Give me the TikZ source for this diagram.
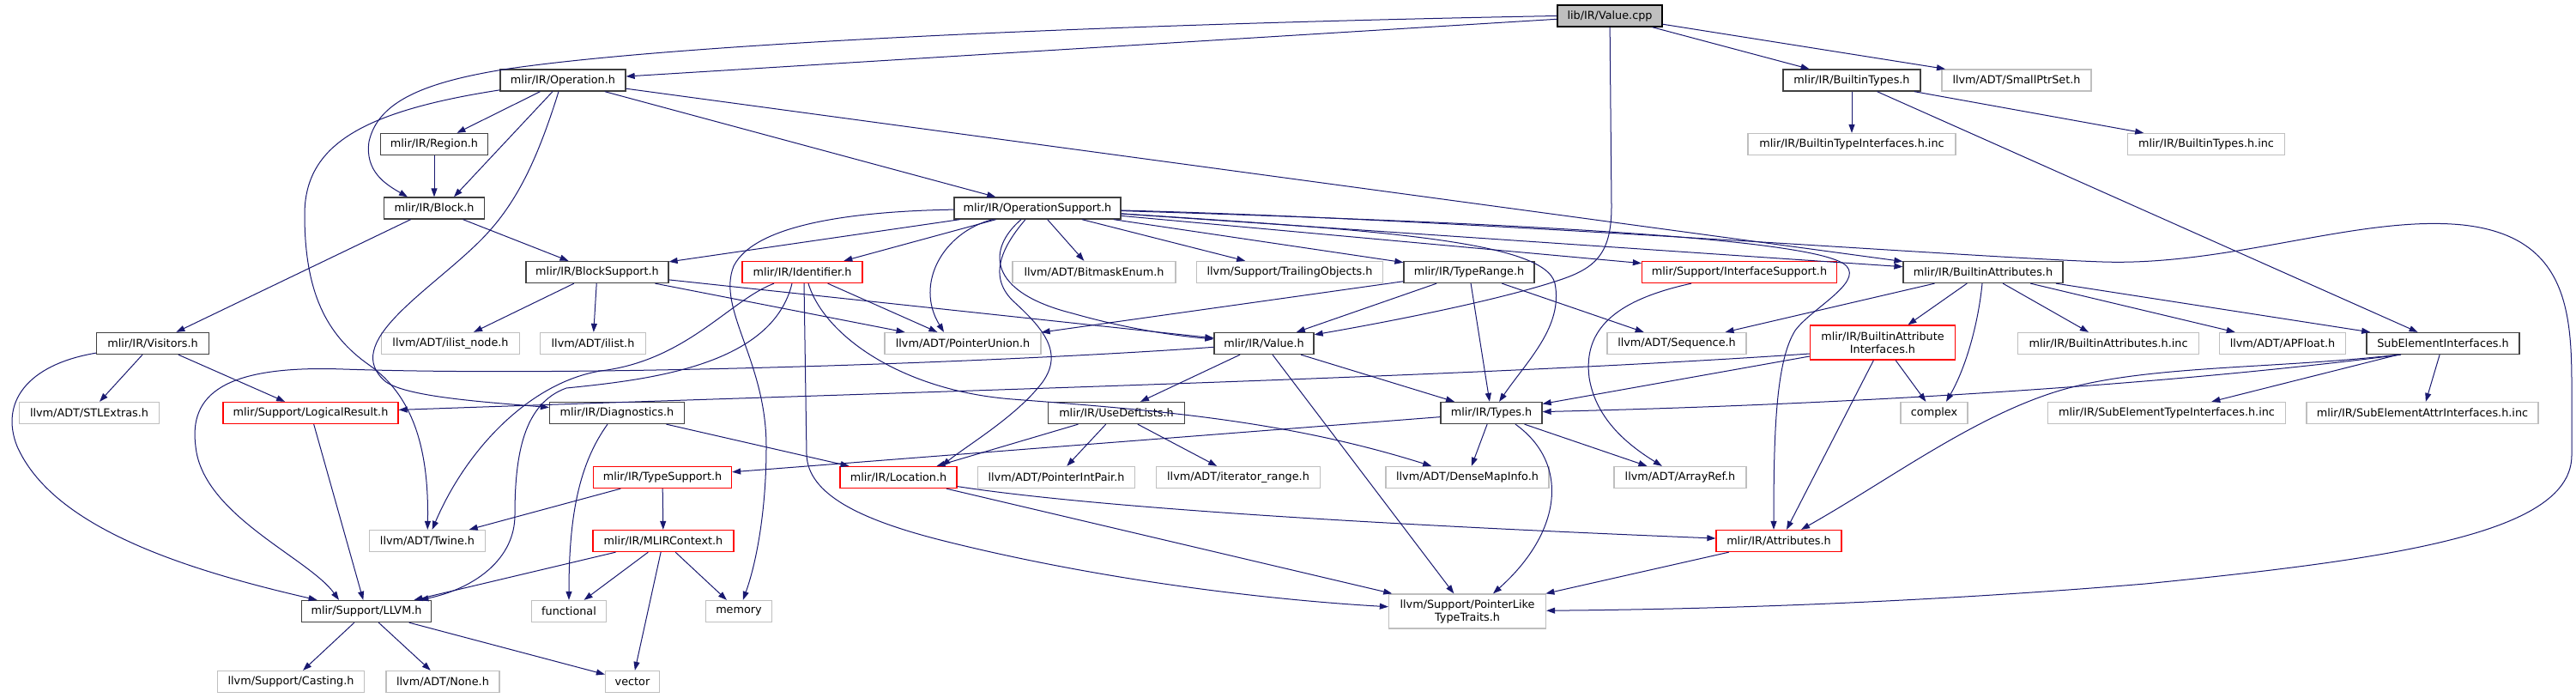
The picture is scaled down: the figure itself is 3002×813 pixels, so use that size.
\documentclass[tikz,border=0pt]{standalone}
\usepackage{fontspec}
\setmainfont{DejaVu Sans}
\usetikzlibrary{arrows.meta}
\definecolor{edgec}{HTML}{191970}
\definecolor{greyc}{HTML}{BFBFBF}
\definecolor{blackc}{HTML}{404040}
\tikzset{
  box/.style={rectangle, draw, inner sep=0pt, minimum height=25pt, line width=1.3pt, fill=white,
    font=\fontsize{12.8}{15}\selectfont, align=center},
  blk/.style={box, draw=blackc},
  gry/.style={box, draw=greyc},
  rd/.style={box, draw=red},
  mainbox/.style={box, draw=black, fill=greyc},
  dep/.style={draw=edgec, line width=1pt, -{Triangle[length=10pt,width=7pt]}}
}
\begin{document}
\begin{tikzpicture}[x=1pt,y=-1pt]
\path[use as bounding box, fill=white] (0,0) rectangle (3002,813);
% row 0
\node[mainbox, minimum width=122pt] (vcpp) at (1876,18.5) {lib/IR/Value.cpp};
% row 1
\node[blk, minimum width=146pt] (op) at (656,93.5) {mlir/IR/Operation.h};
\node[blk, minimum width=160pt] (bt) at (2158,93.5) {mlir/IR/BuiltinTypes.h};
\node[gry, minimum width=174pt] (sps) at (2350,93.5) {llvm/ADT/SmallPtrSet.h};
% row 2
\node[blk, minimum width=125pt] (region) at (506,168) {mlir/IR/Region.h};
\node[gry, minimum width=242pt] (btii) at (2158,168) {mlir/IR/BuiltinTypeInterfaces.h.inc};
\node[gry, minimum width=183pt] (btinc) at (2571,168) {mlir/IR/BuiltinTypes.h.inc};
% row 3
\node[blk, minimum width=117pt] (block) at (506,242.5) {mlir/IR/Block.h};
\node[blk, minimum width=194pt] (opsup) at (1209,242.5) {mlir/IR/OperationSupport.h};
% row 4
\node[blk, minimum width=166pt] (blocksup) at (696,317) {mlir/IR/BlockSupport.h};
\node[rd, minimum width=140pt] (ident) at (935,317) {mlir/IR/Identifier.h};
\node[gry, minimum width=190pt] (bitmask) at (1275,317) {llvm/ADT/BitmaskEnum.h};
\node[gry, minimum width=217pt] (trailing) at (1503,317) {llvm/Support/TrailingObjects.h};
\node[blk, minimum width=152pt] (typerange) at (1712,317) {mlir/IR/TypeRange.h};
\node[rd, minimum width=227pt] (ifsup) at (2027,317) {mlir/Support/InterfaceSupport.h};
\node[blk, minimum width=186pt] (battr) at (2311,317) {mlir/IR/BuiltinAttributes.h};
% row 5
\node[blk, minimum width=131pt] (visitors) at (178,400) {mlir/IR/Visitors.h};
\node[gry, minimum width=161pt] (ilistnode) at (525,400) {llvm/ADT/ilist\_node.h};
\node[gry, minimum width=123pt] (ilist) at (691,400) {llvm/ADT/ilist.h};
\node[gry, minimum width=182pt] (punion) at (1122,400) {llvm/ADT/PointerUnion.h};
\node[blk, minimum width=116pt] (value) at (1473,400) {mlir/IR/Value.h};
\node[gry, minimum width=162pt] (seq) at (1954,400) {llvm/ADT/Sequence.h};
\node[rd, minimum width=169pt, minimum height=40pt] (bai) at (2194,399) {mlir/IR/BuiltinAttribute\\Interfaces.h};
\node[gry, minimum width=211pt] (bainc) at (2457,400) {mlir/IR/BuiltinAttributes.h.inc};
\node[gry, minimum width=147pt] (apfloat) at (2660,400) {llvm/ADT/APFloat.h};
\node[blk, minimum width=178pt] (sei) at (2847,400) {SubElementInterfaces.h};
% row 6
\node[gry, minimum width=163pt] (stl) at (104,481) {llvm/ADT/STLExtras.h};
\node[rd, minimum width=204pt] (logres) at (362,481) {mlir/Support/LogicalResult.h};
\node[blk, minimum width=157pt] (diag) at (719,481) {mlir/IR/Diagnostics.h};
\node[blk, minimum width=159pt] (udl) at (1301,481) {mlir/IR/UseDefLists.h};
\node[blk, minimum width=118pt] (types) at (1738,481) {mlir/IR/Types.h};
\node[gry, minimum width=78pt] (complex) at (2254,481) {complex};
\node[gry, minimum width=277pt] (seti) at (2525,481) {mlir/IR/SubElementTypeInterfaces.h.inc};
\node[gry, minimum width=270pt] (seai) at (2823,481) {mlir/IR/SubElementAttrInterfaces.h.inc};
% row 7
\node[rd, minimum width=161pt] (tsup) at (772,556) {mlir/IR/TypeSupport.h};
\node[rd, minimum width=136pt] (loc) at (1047,556) {mlir/IR/Location.h};
\node[gry, minimum width=183pt] (pip) at (1231,556) {llvm/ADT/PointerIntPair.h};
\node[gry, minimum width=191pt] (itr) at (1443,556) {llvm/ADT/iterator\_range.h};
\node[gry, minimum width=190pt] (dmi) at (1710,556) {llvm/ADT/DenseMapInfo.h};
\node[gry, minimum width=154pt] (aref) at (1958,556) {llvm/ADT/ArrayRef.h};
% row 8
\node[gry, minimum width=135pt] (twine) at (498,630) {llvm/ADT/Twine.h};
\node[rd, minimum width=164pt] (ctx) at (773,630) {mlir/IR/MLIRContext.h};
\node[rd, minimum width=146pt] (attrs) at (2073,630) {mlir/IR/Attributes.h};
% row 9
\node[blk, minimum width=151pt] (llvmh) at (427,712) {mlir/Support/LLVM.h};
\node[gry, minimum width=87pt] (functional) at (663,712) {functional};
\node[gry, minimum width=77pt] (memory) at (861,712) {memory};
\node[gry, minimum width=183pt, minimum height=40pt] (pltt) at (1710,712) {llvm/Support/PointerLike\\TypeTraits.h};
% row 10
\node[gry, minimum width=171pt] (casting) at (339,794) {llvm/Support/Casting.h};
\node[gry, minimum width=132pt] (none) at (516,794) {llvm/ADT/None.h};
\node[gry, minimum width=63pt] (vector) at (737,794) {vector};

% ---- edges ----
% Value.cpp
\draw[dep] (vcpp) -- (op);
\draw[dep] (vcpp.west) .. controls (1300,28) and (800,50) .. (593,80) .. controls (490,96) and (440,120) .. (430,165) .. controls (425,200) and (450,215) .. ([xshift=-31pt]block.north);
\draw[dep] (vcpp) -- (bt);
\draw[dep] (vcpp) -- (sps);
\draw[dep] (vcpp) -- (1878,240) .. controls (1878,295) and (1860,312) .. (1818,326) .. controls (1740,352) and (1600,378) .. (value);
% Operation.h
\draw[dep] (op) -- (region);
\draw[dep] ([xshift=-12pt]op.south) -- ([xshift=23pt]block.north);
\draw[dep] (op) -- (opsup);
\draw[dep] (op) -- (battr);
\draw[dep] (op) .. controls (420,130) and (355,170) .. (355,250) .. controls (355,340) and (380,390) .. (430,425) .. controls (480,460) and (500,520) .. (twine);
\draw[dep] ([xshift=-5pt]op.south) .. controls (625,190) and (600,240) .. (560,280) .. controls (500,340) and (395,400) .. (450,445) .. controls (475,462) and (560,468) .. (diag);
% Region / Block
\draw[dep] (region) -- (block);
\draw[dep] (block) -- (visitors);
\draw[dep] (block) -- (blocksup);
% OperationSupport
\draw[dep] (opsup) -- (blocksup);
\draw[dep] (opsup) -- (ident);
\draw[dep] (opsup) .. controls (1000,246) and (880,260) .. (855,310) .. controls (835,360) and (893,420) .. (893,520) .. controls (893,600) and (880,660) .. (memory);
\draw[dep] (opsup) .. controls (1100,270) and (1065,330) .. ([xshift=-22pt]punion.north);
\draw[dep] ([xshift=-19pt]opsup.south) .. controls (1150,290) and (1150,340) .. (1250,365) .. controls (1320,385) and (1380,392) .. (value);
\draw[dep] ([xshift=-14pt]opsup.south) .. controls (1170,285) and (1150,320) .. (1180,350) .. controls (1215,382) and (1240,410) .. (1215,445) .. controls (1185,485) and (1125,520) .. ([xshift=-18pt]loc.north east);
\draw[dep] (opsup) -- (bitmask);
\draw[dep] (opsup) -- (trailing);
\draw[dep] (opsup) -- (typerange);
\draw[dep] (opsup) -- (ifsup);
\draw[dep] (opsup) -- (battr);
\draw[dep] (opsup) .. controls (1600,268) and (1800,280) .. (1812,330) .. controls (1822,380) and (1780,420) .. (types);
\draw[dep] (opsup) .. controls (1700,258) and (2120,275) .. (2152,310) .. controls (2170,330) and (2110,360) .. (2092,385) .. controls (2070,420) and (2067,500) .. ([xshift=-6pt]attrs.north);
\draw[dep] (opsup) .. controls (1700,255) and (2300,300) .. (2450,305) .. controls (2600,310) and (2750,250) .. (2870,262) .. controls (2990,275) and (2997,360) .. (2997,450) -- (2997,530) .. controls (2997,620) and (2800,650) .. (2500,680) .. controls (2200,705) and (1950,710) .. (pltt);
% Identifier
\draw[dep] ([xshift=-33pt]ident.south) .. controls (850,350) and (800,420) .. (700,432) .. controls (620,445) and (545,520) .. (twine);
\draw[dep] ([xshift=-12pt]ident.south) .. controls (900,425) and (760,442) .. (660,452) .. controls (610,470) and (600,530) .. (600,600) .. controls (600,650) and (555,685) .. (llvmh);
\draw[dep] ([xshift=2pt]ident.south) -- (940,530) .. controls (942,575) and (1000,605) .. (1100,630) .. controls (1300,680) and (1500,700) .. (pltt);
\draw[dep] ([xshift=7pt]ident.south) .. controls (960,390) and (1050,455) .. (1180,465) .. controls (1350,478) and (1500,490) .. (dmi);
\draw[dep] (ident) -- (punion);
% BlockSupport
\draw[dep] (blocksup) -- (ilistnode);
\draw[dep] (blocksup) -- (ilist);
\draw[dep] (blocksup) -- (punion);
\draw[dep] (blocksup) -- (value);
% TypeRange
\draw[dep] (typerange) -- (punion);
\draw[dep] (typerange) -- (value);
\draw[dep] (typerange) -- (types);
\draw[dep] (typerange) -- (seq);
% InterfaceSupport
\draw[dep] ([xshift=-56pt]ifsup.south) .. controls (1880,350) and (1845,385) .. (1852,440) .. controls (1860,490) and (1900,520) .. (aref);
% BuiltinAttributes
\draw[dep] (battr) -- (seq);
\draw[dep] (battr) -- (bai);
\draw[dep] ([xshift=-1pt]battr.south) .. controls (2305,380) and (2290,430) .. ([xshift=14pt]complex.north);
\draw[dep] (battr) -- (bainc);
\draw[dep] (battr) -- (apfloat);
\draw[dep] (battr) -- (sei);
% BuiltinTypes
\draw[dep] (bt) -- (btii);
\draw[dep] (bt) -- (btinc);
\draw[dep] (bt) -- (sei);
% Visitors
\draw[dep] (visitors) -- (stl);
\draw[dep] (visitors) -- (logres);
\draw[dep] (visitors) .. controls (30,425) and (0,470) .. (20,520) .. controls (60,610) and (200,660) .. (llvmh);
\draw[dep] (logres) -- (llvmh);
% Diagnostics
\draw[dep] (diag) -- (loc);
\draw[dep] ([xshift=-11pt]diag.south) .. controls (675,540) and (663,600) .. (functional);
% Types
\draw[dep] (types) -- (tsup);
\draw[dep] (types) -- (dmi);
\draw[dep] ([xshift=28pt]types.south) .. controls (1830,540) and (1820,620) .. ([xshift=30pt]pltt.north);
\draw[dep] (types) -- (aref);
% Value
\draw[dep] (value) -- (udl);
\draw[dep] (value) -- (types);
\draw[dep] (value) -- (pltt);
\draw[dep] (value) .. controls (1200,420) and (700,440) .. (400,430) .. controls (260,425) and (220,460) .. (228,520) .. controls (236,600) and (360,650) .. ([xshift=-32pt]llvmh.north);
% UseDefLists
\draw[dep] (udl) -- (loc);
\draw[dep] (udl) -- (pip);
\draw[dep] (udl) -- (itr);
% Location / Attributes
\draw[dep] (loc) .. controls (1300,595) and (1700,615) .. (attrs);
\draw[dep] (loc) -- (pltt);
\draw[dep] (attrs) -- (pltt);
% TypeSupport / MLIRContext / LLVM
\draw[dep] (tsup) -- (twine);
\draw[dep] (tsup) -- (ctx);
\draw[dep] (ctx) -- (llvmh);
\draw[dep] (ctx) -- (functional);
\draw[dep] (ctx) -- (memory);
\draw[dep] (ctx) -- (vector);
\draw[dep] (llvmh) -- (casting);
\draw[dep] (llvmh) -- (none);
\draw[dep] (llvmh) -- (vector);
% BuiltinAttributeInterfaces
\draw[dep] ([yshift=-16pt]bai.west) -- (types);
\draw[dep] ([yshift=-13pt]bai.west) .. controls (1700,440) and (1100,455) .. (logres);
\draw[dep] (bai) -- ([xshift=9pt]attrs.north);
\draw[dep] (bai) -- (complex);
% SubElementInterfaces
\draw[dep] (sei) -- (seti);
\draw[dep] (sei) -- (seai);
\draw[dep] ([xshift=-49pt]sei.south) .. controls (2550,445) and (2200,470) .. (types);
\draw[dep] ([xshift=-52pt]sei.south) .. controls (2650,430) and (2500,425) .. (2400,455) .. controls (2300,485) and (2200,560) .. ([xshift=26pt]attrs.north);
\end{tikzpicture}
\end{document}
